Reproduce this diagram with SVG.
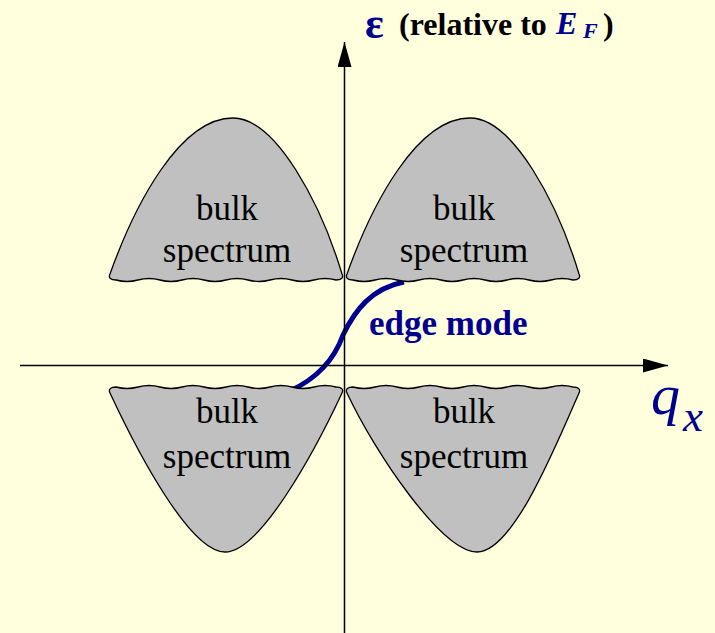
<svg xmlns="http://www.w3.org/2000/svg" width="715" height="633" viewBox="0 0 715 633">
<defs>
<marker id="arr" viewBox="0 0 25 14" refX="25" refY="7" markerWidth="25" markerHeight="14" markerUnits="userSpaceOnUse" orient="auto">
<path d="M0,0 L25,7 L0,14 Z" fill="#000"/>
</marker>
<path id="topShape" d="M0,0 C25,-70 70,-156 123,-156 C166,-156 211,-70 232,0 C234,4 231,6 226,6 Q215,3 204,6 T182,6 T160,6 T138,6 T116,6 T94,6 T72,6 T50,6 T28,6 T6,6 C1,6 -2,4 0,0 Z"/>
</defs>
<style>
text{font-family:"Liberation Serif","Times New Roman","DejaVu Serif",serif}
.bulk{fill:#C0C0C0;stroke:#000;stroke-width:1.3;stroke-linejoin:round}
.lbl{font-size:35px;fill:#000;text-anchor:middle}
.axis{stroke:#000;stroke-width:1.5;fill:none}
.blue{fill:#000090}
.math{font-style:italic;font-weight:bold}
.var{font-style:italic}
</style>
<rect x="0" y="0" width="715" height="633" fill="#FFFFDD"/>
<g id="connectors">
<path id="edge-curve" d="M290,391 C322,376 336,355 343,335 C355,310 372,288 404,282" fill="none" stroke="#000090" stroke-width="5"/>
<line id="axis-x" class="axis" x1="20" y1="365.5" x2="668" y2="365.5" marker-end="url(#arr)"/>
<line id="axis-y" class="axis" x1="344.5" y1="633" x2="344.5" y2="42" marker-end="url(#arr)"/>
</g>
<g id="bulk-top-left">
<use href="#topShape" class="bulk" transform="translate(110,274)"/>
<text class="lbl" x="227" y="220">bulk</text>
<text class="lbl" x="227" y="262">spectrum</text>
</g>
<g id="bulk-top-right">
<use href="#topShape" class="bulk" transform="translate(347,274)"/>
<text class="lbl" x="464" y="220">bulk</text>
<text class="lbl" x="464" y="262">spectrum</text>
</g>
<g id="bulk-bottom-left">
<path class="bulk" transform="translate(110,393)" d="M0,0 C28,60 80,159 115,159 C150,159 204,60 232,0 C234,-4 231,-6 226,-6 Q215,-9 204,-6 T182,-6 T160,-6 T138,-6 T116,-6 T94,-6 T72,-6 T50,-6 T28,-6 T6,-6 C1,-6 -2,-4 0,0 Z"/>
<text class="lbl" x="227" y="423">bulk</text>
<text class="lbl" x="227" y="468">spectrum</text>
</g>
<g id="bulk-bottom-right">
<path class="bulk" transform="translate(347,393)" d="M0,0 C28,60 95,159 130,159 C165,159 206,60 232,0 C234,-4 231,-6 226,-6 Q215,-9 204,-6 T182,-6 T160,-6 T138,-6 T116,-6 T94,-6 T72,-6 T50,-6 T28,-6 T6,-6 C1,-6 -2,-4 0,0 Z"/>
<text class="lbl" x="464" y="423">bulk</text>
<text class="lbl" x="464" y="468">spectrum</text>
</g>
<g id="edge-mode-label">
<text x="369" y="335" font-size="35" font-weight="bold" class="blue">edge mode</text>
</g>
<g id="energy-label">
<text x="365" y="38" font-size="44" font-weight="bold" class="blue">ε</text>
<text x="399" y="35" font-size="32" font-weight="bold" fill="#000">(relative to</text>
<text x="556" y="34" font-size="32" class="blue math">E</text>
<text x="583" y="38" font-size="22" class="blue math">F</text>
<text x="603" y="35" font-size="32" font-weight="bold" fill="#000">)</text>
</g>
<g id="qx-label">
<text x="651" y="414" font-size="58" class="blue var">q</text>
<text x="683" y="431" font-size="45" class="blue var">x</text>
</g>
</svg>
